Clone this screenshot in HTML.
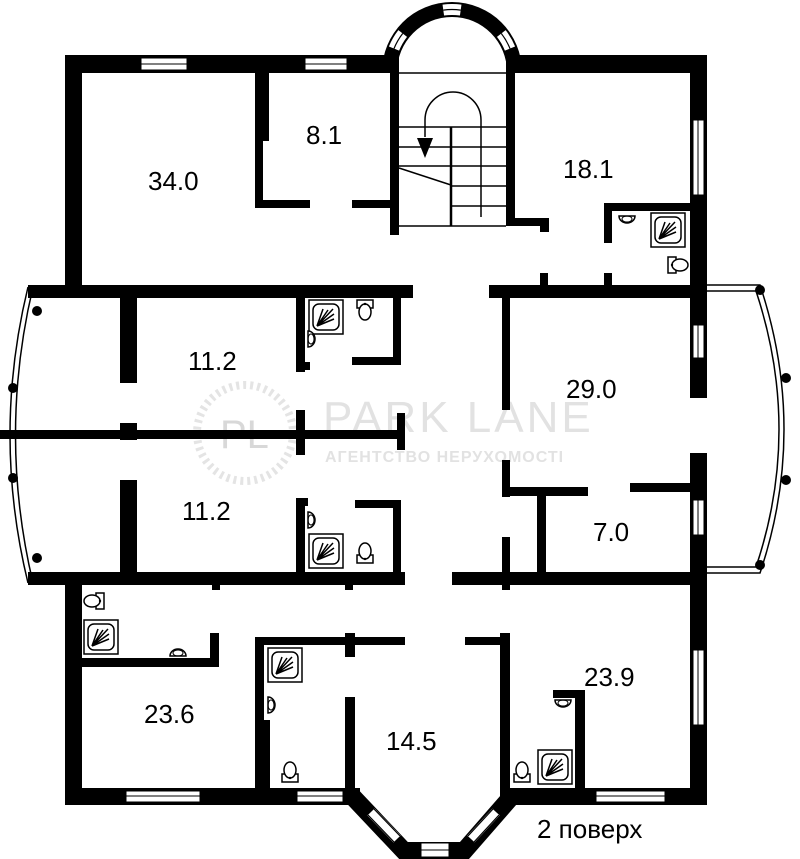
<!DOCTYPE html>
<html><head><meta charset="utf-8"><style>
html,body{margin:0;padding:0;background:#fff;width:800px;height:859px;overflow:hidden}
svg{display:block}
text{font-family:"Liberation Sans",sans-serif;fill:#000}
</style></head><body>
<svg width="800" height="859" viewBox="0 0 800 859" xmlns="http://www.w3.org/2000/svg">
<defs>
<g id="shower"><rect x="0" y="0" width="34" height="34" fill="#fff" stroke="#000" stroke-width="1.5"/><rect x="4" y="4" width="26" height="26" rx="6" fill="none" stroke="#000" stroke-width="1.5"/><path d="M8 26 L24 9 M8 26 L14 9 M8 26 L25 19 M8 26 L19 10 M8 26 L25 14" stroke="#000" stroke-width="1.5"/></g>
<g id="toilet"><rect x="0" y="12" width="16" height="8" fill="#fff" stroke="#000" stroke-width="1.5"/><ellipse cx="8" cy="8" rx="6" ry="8" fill="#fff" stroke="#000" stroke-width="1.5"/><circle cx="8" cy="16" r="1.2"/></g>
<g id="sink"><path d="M0 0 A8 7 0 0 0 16 0 Z" fill="#fff" stroke="#000" stroke-width="1.5"/><ellipse cx="8" cy="3" rx="5" ry="3" fill="none" stroke="#000" stroke-width="1"/></g>
</defs>

<!-- watermark -->
<circle cx="245" cy="433" r="48" fill="none" stroke="#e4e4e4" stroke-width="8" stroke-dasharray="3 4"/>
<text x="220" y="448" font-family="Liberation Serif" font-size="40" style="fill:#d8d8d8">PL</text>
<text x="323" y="432" font-family="Liberation Serif" font-size="44" style="fill:#e2e2e2" letter-spacing="3">PARK LANE</text>
<text x="325" y="462" font-size="16" font-weight="bold" style="fill:#e2e2e2" letter-spacing="1">АГЕНТСТВО НЕРУХОМОСТІ</text>

<!-- bays -->
<g fill="none" stroke="#000" stroke-width="1.5">
<path d="M28 287 Q-8 435 28 583"/><path d="M33 287 Q-2 435 33 583"/>
<path d="M707 285 L760 285 Q808 430 760 573 L707 573"/>
<path d="M707 291 L756 291 Q802 430 756 567 L707 567"/>
</g>
<g fill="#000">
<circle cx="37" cy="311" r="5"/><circle cx="13" cy="388" r="5"/><circle cx="13" cy="478" r="5"/><circle cx="37" cy="558" r="5"/>
<circle cx="760" cy="290" r="5"/><circle cx="786" cy="378" r="5"/><circle cx="786" cy="480" r="5"/><circle cx="760" cy="565" r="5"/>
</g>

<!-- tower arc -->
<path d="M382 72 A70 70 0 0 1 522 72 L507 72 A55 55 0 0 0 397 72 Z" fill="#000"/>
<g stroke="#fff" stroke-width="11" fill="none">
<path d="M394 48.6 A62.5 62.5 0 0 1 402.7 33.5"/>
<path d="M443.3 10.1 A62.5 62.5 0 0 1 460.7 10.1"/>
<path d="M501.3 33.5 A62.5 62.5 0 0 1 510 48.6"/>
</g>
<g stroke="#000" stroke-width="1.2" fill="none">
<path d="M394 48.6 A62.5 62.5 0 0 1 402.7 33.5"/>
<path d="M443.3 10.1 A62.5 62.5 0 0 1 460.7 10.1"/>
<path d="M501.3 33.5 A62.5 62.5 0 0 1 510 48.6"/>
</g>

<!-- walls -->
<g fill="#000">
<rect x="65" y="55" width="330" height="18"/>
<rect x="507" y="55" width="200" height="18"/>
<rect x="65" y="55" width="17" height="240"/>
<rect x="690" y="55" width="17" height="240"/>
<rect x="255" y="73" width="14" height="68"/>
<rect x="255" y="140" width="8" height="68"/>
<rect x="255" y="200" width="55" height="8"/>
<rect x="352" y="200" width="40" height="8"/>
<rect x="390" y="55" width="9" height="180"/>
<rect x="506" y="55" width="9" height="170"/>
<rect x="506" y="218" width="43" height="8"/>
<rect x="540" y="218" width="9" height="14"/>
<rect x="604" y="203" width="90" height="8"/>
<rect x="604" y="203" width="8" height="40"/>
<rect x="540" y="273" width="8" height="14"/>
<rect x="604" y="273" width="8" height="14"/>
<rect x="28" y="285" width="385" height="13"/>
<rect x="489" y="285" width="218" height="13"/>
<rect x="120" y="298" width="17" height="85"/>
<rect x="120" y="423" width="17" height="17"/>
<rect x="120" y="480" width="17" height="92"/>
<rect x="296" y="298" width="9" height="74"/>
<rect x="296" y="362" width="14" height="8"/>
<rect x="393" y="298" width="8" height="67"/>
<rect x="352" y="357" width="49" height="8"/>
<rect x="0" y="430" width="400" height="9"/>
<rect x="296" y="410" width="9" height="45"/>
<rect x="397" y="413" width="8" height="37"/>
<rect x="296" y="498" width="9" height="74"/>
<rect x="296" y="498" width="12" height="8"/>
<rect x="355" y="500" width="45" height="8"/>
<rect x="393" y="500" width="8" height="72"/>
<rect x="502" y="298" width="8" height="112"/>
<rect x="502" y="460" width="8" height="37"/>
<rect x="502" y="487" width="86" height="9"/>
<rect x="630" y="483" width="60" height="9"/>
<rect x="537" y="487" width="9" height="88"/>
<rect x="502" y="537" width="8" height="53"/>
<rect x="690" y="285" width="17" height="113"/>
<rect x="690" y="453" width="17" height="352"/>
<rect x="28" y="572" width="377" height="13"/>
<rect x="452" y="572" width="240" height="13"/>
<rect x="65" y="585" width="17" height="220"/>
<rect x="212" y="585" width="8" height="5"/>
<rect x="345" y="585" width="8" height="5"/>
<rect x="82" y="658" width="137" height="9"/>
<rect x="210" y="633" width="9" height="34"/>
<rect x="255" y="637" width="150" height="8"/>
<rect x="255" y="637" width="9" height="153"/>
<rect x="255" y="720" width="15" height="70"/>
<rect x="345" y="633" width="10" height="24"/>
<rect x="345" y="697" width="10" height="95"/>
<rect x="465" y="637" width="45" height="8"/>
<rect x="500" y="633" width="10" height="160"/>
<rect x="553" y="690" width="32" height="8"/>
<rect x="575" y="690" width="10" height="100"/>
<rect x="65" y="788" width="295" height="17"/>
<rect x="500" y="788" width="207" height="17"/>
</g>
<polyline points="352,796 404,851 464,851 512,796" fill="none" stroke="#000" stroke-width="18" stroke-linejoin="miter"/>

<!-- windows -->
<g fill="#fff" stroke="#000" stroke-width="1">
<rect x="141" y="58" width="46" height="12"/><rect x="305" y="58" width="42" height="12"/>
<rect x="693" y="120" width="11" height="75"/>
<rect x="693" y="325" width="11" height="33"/>
<rect x="693" y="500" width="11" height="35"/>
<rect x="693" y="650" width="11" height="75"/>
<rect x="126" y="791" width="74" height="11"/><rect x="297" y="791" width="46" height="11"/>
<rect x="596" y="791" width="69" height="11"/>
<rect x="421" y="843" width="28" height="14"/>
</g>
<g stroke="#000" stroke-width="1">
<line x1="141" y1="64" x2="187" y2="64"/><line x1="305" y1="64" x2="347" y2="64"/>
<line x1="698" y1="120" x2="698" y2="195"/><line x1="698" y1="325" x2="698" y2="358"/>
<line x1="698" y1="500" x2="698" y2="535"/><line x1="698" y1="650" x2="698" y2="725"/>
<line x1="126" y1="796" x2="200" y2="796"/><line x1="297" y1="796" x2="343" y2="796"/>
<line x1="596" y1="796" x2="665" y2="796"/><line x1="421" y1="850" x2="449" y2="850"/>
</g>
<g stroke="#fff" stroke-width="10"><line x1="371" y1="812" x2="397" y2="839"/><line x1="471" y1="839" x2="496" y2="812"/></g>
<g stroke="#000" stroke-width="1.2"><line x1="368" y1="815" x2="394" y2="842"/><line x1="374" y1="809" x2="400" y2="836"/><line x1="468" y1="836" x2="493" y2="809"/><line x1="474" y1="842" x2="499" y2="815"/></g>

<!-- stairs -->
<g stroke="#000" stroke-width="1.5" fill="none">
<line x1="399" y1="73" x2="506" y2="73"/>
<line x1="399" y1="127" x2="506" y2="127"/><line x1="399" y1="147" x2="506" y2="147"/>
<line x1="399" y1="166" x2="506" y2="166"/><line x1="451" y1="186" x2="506" y2="186"/>
<line x1="451" y1="206" x2="506" y2="206"/><line x1="399" y1="226" x2="506" y2="226"/>
<line x1="451" y1="127" x2="451" y2="226" stroke-width="2.5"/>
<line x1="399" y1="168" x2="451" y2="185"/>
<path d="M425 137 L425 120 A28 28 0 0 1 481 120 L481 217"/>
</g>
<polygon points="417,138 433,138 425,158" fill="#000"/>

<!-- fixtures -->
<use href="#shower" x="651" y="213"/><use href="#sink" x="619" y="216"/>
<g transform="translate(688,257) rotate(90)"><use href="#toilet" x="0" y="0"/></g>
<use href="#shower" x="309" y="300"/><use href="#toilet" x="357" y="300" transform="rotate(180 365 310)"/>
<g transform="translate(308,339) rotate(-90)"><use href="#sink" x="-8" y="0"/></g>
<use href="#shower" x="309" y="534"/><use href="#toilet" x="357" y="543"/>
<g transform="translate(308,520) rotate(-90)"><use href="#sink" x="-8" y="0"/></g>
<g transform="translate(84,601) rotate(-90)"><use href="#toilet" x="-8" y="0"/></g>
<use href="#shower" x="84" y="620"/><g transform="translate(178,656) rotate(180)"><use href="#sink" x="-8" y="0"/></g>
<use href="#shower" x="268" y="648"/><g transform="translate(268,705) rotate(-90)"><use href="#sink" x="-8" y="0"/></g>
<use href="#toilet" x="282" y="762"/>
<use href="#shower" x="538" y="750"/><use href="#toilet" x="514" y="762"/>
<use href="#sink" x="555" y="700"/>

<!-- labels -->
<g font-size="26">
<text x="148" y="190">34.0</text>
<text x="306" y="144">8.1</text>
<text x="563" y="178">18.1</text>
<text x="188" y="370">11.2</text>
<text x="566" y="398">29.0</text>
<text x="182" y="520">11.2</text>
<text x="593" y="541">7.0</text>
<text x="144" y="723">23.6</text>
<text x="386" y="750">14.5</text>
<text x="584" y="686">23.9</text>
<text x="537" y="838">2 поверх</text>
</g>
</svg>
</body></html>
